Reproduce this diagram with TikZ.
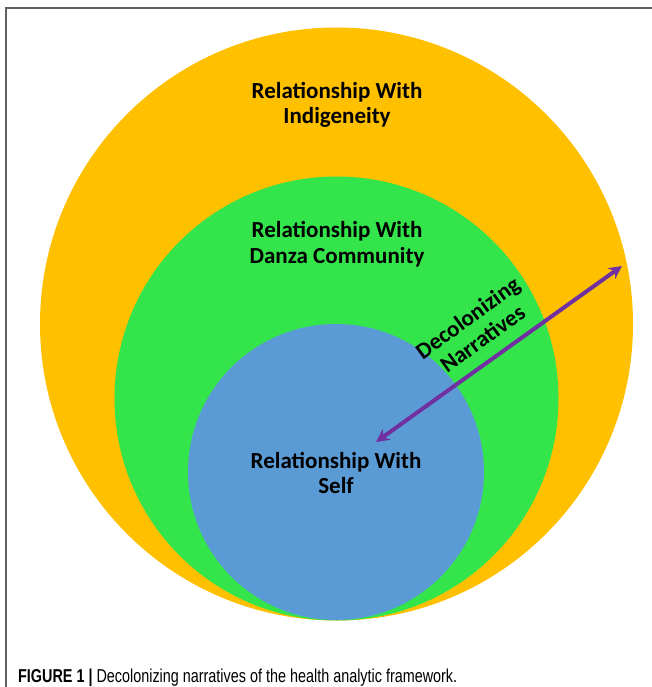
\documentclass[tikz,border=0pt]{standalone}
\usepackage{fontspec}
\setmainfont{Carlito}
\newfontfamily\capfont{Liberation Sans}
\usetikzlibrary{arrows.meta}
\definecolor{cyellow}{HTML}{FFC000}
\definecolor{cgreen}{HTML}{33E44B}
\definecolor{cblue}{HTML}{5B9BD5}
\definecolor{cpurple}{HTML}{7030A0}
\definecolor{cframe}{HTML}{606060}
\tikzset{
  lbl/.style={align=center, font=\bfseries\fontsize{23}{25.5}\selectfont, text=black, inner sep=0pt},
  arr/.style={cpurple, line width=4pt, {Stealth[length=13pt,width=13pt]}-{Stealth[length=13pt,width=13pt]}},
  framel/.style={cframe, line width=1.3pt}
}
\begin{document}
\begin{tikzpicture}[x=1pt,y=-1pt]
\useasboundingbox (0,0) rectangle (652,687);
\fill[white] (0,0) rectangle (652,687);
% frame
\coordinate (f1) at (6,687);
\coordinate (f2) at (6,8);
\coordinate (f3) at (652,8);
\draw[framel] (f1) -- (f2) -- (f3);
% circles
\fill[cyellow] (336.5,324) circle (296.5);
\fill[cgreen] (336.5,398.5) circle (222);
\fill[cblue] (336,472) circle (148);
% labels
\node[lbl] (ind) at (337,105) {Relationship With\\Indigeneity};
\node[lbl] (dan) at (337,244) {Relationship With\\Danza Community};
\node[lbl] (slf) at (336,473) {Relationship With\\Self};
\node[lbl, rotate=36] (dec) at (475,328) {Decolonizing\\Narratives};
% arrow
\coordinate (a1) at (376,442);
\coordinate (a2) at (622,266);
\draw[arr] (a1) -- (a2);
% caption
\node[anchor=base west, inner sep=0pt] (cap) at (18,682)
  {\resizebox{439pt}{13.5pt}{\capfont\textbf{FIGURE 1 |} Decolonizing narratives of the health analytic framework.}};
\end{tikzpicture}
\end{document}
